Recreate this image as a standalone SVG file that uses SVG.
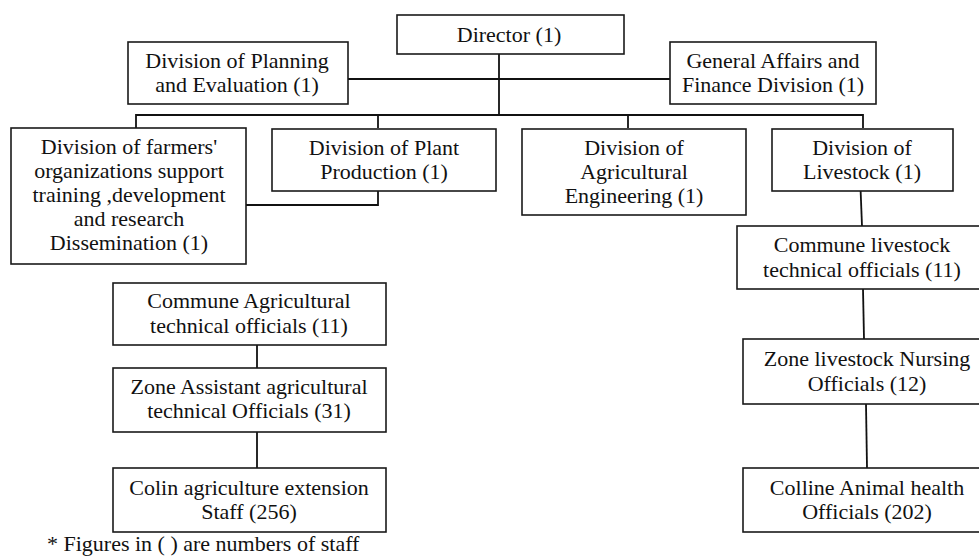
<svg xmlns="http://www.w3.org/2000/svg" width="979" height="556" viewBox="0 0 979 556">
  <style>
    .box { fill: #ffffff; stroke: #1a1a1a; stroke-width: 1.6; }
    .lbl { font-size: 22px; fill: #111111; text-anchor: middle; }
    .note { font-size: 22px; fill: #111111; }
    .link { fill: none; stroke: #111111; stroke-width: 1.8; }
  </style>
  <rect width="979" height="556" fill="#ffffff"/>
  <g id="connectors">
    <polyline class="link" points="499,54 499,115"/>
    <polyline class="link" points="348,79 670,79"/>
    <polyline class="link" points="136,128 136,115 863,115 863,128"/>
    <polyline class="link" points="378,115 378,128"/>
    <polyline class="link" points="628,115 628,128"/>
    <polyline class="link" points="378,191 378,205 246,205"/>
    <polyline class="link" points="860,175 862,226"/>
    <polyline class="link" points="863,289 864,339"/>
    <polyline class="link" points="866,404 867,468"/>
    <polyline class="link" points="257,345 257,368"/>
    <polyline class="link" points="257,432 257,468"/>
  </g>
  <g id="director">
    <rect class="box" x="397" y="15" width="227" height="39"/>
    <text class="lbl" x="509" y="42" font-family="Liberation Serif">Director (1)</text>
  </g>
  <g id="planning">
    <rect class="box" x="128" y="42" width="220" height="62"/>
    <text class="lbl" x="237" y="68" font-family="Liberation Serif">Division of Planning</text>
    <text class="lbl" x="237" y="92" font-family="Liberation Serif">and Evaluation  (1)</text>
  </g>
  <g id="finance">
    <rect class="box" x="670" y="42" width="206" height="62"/>
    <text class="lbl" x="773" y="68" font-family="Liberation Serif">General Affairs and</text>
    <text class="lbl" x="773" y="92" font-family="Liberation Serif">Finance Division (1)</text>
  </g>
  <g id="farmers">
    <rect class="box" x="11" y="128" width="235" height="136"/>
    <text class="lbl" x="129" y="154" font-family="Liberation Serif">Division of farmers&#39;</text>
    <text class="lbl" x="129" y="178" font-family="Liberation Serif">organizations  support</text>
    <text class="lbl" x="129" y="202" font-family="Liberation Serif">training ,development</text>
    <text class="lbl" x="129" y="226" font-family="Liberation Serif">and research</text>
    <text class="lbl" x="129" y="250" font-family="Liberation Serif">Dissemination (1)</text>
  </g>
  <g id="plant">
    <rect class="box" x="272" y="129" width="224" height="62"/>
    <text class="lbl" x="384" y="155" font-family="Liberation Serif">Division of Plant</text>
    <text class="lbl" x="384" y="179" font-family="Liberation Serif">Production (1)</text>
  </g>
  <g id="engineering">
    <rect class="box" x="522" y="129" width="224" height="86"/>
    <text class="lbl" x="634" y="155" font-family="Liberation Serif">Division of</text>
    <text class="lbl" x="634" y="179" font-family="Liberation Serif">Agricultural</text>
    <text class="lbl" x="634" y="203" font-family="Liberation Serif">Engineering (1)</text>
  </g>
  <g id="livestock">
    <rect class="box" x="772" y="129" width="181" height="62"/>
    <text class="lbl" x="862" y="155" font-family="Liberation Serif">Division of</text>
    <text class="lbl" x="862" y="179" font-family="Liberation Serif">Livestock (1)</text>
  </g>
  <g id="commune-agri">
    <rect class="box" x="113" y="283" width="273" height="62"/>
    <text class="lbl" x="249" y="308" font-family="Liberation Serif">Commune Agricultural</text>
    <text class="lbl" x="249" y="333" font-family="Liberation Serif">technical  officials  (11)</text>
  </g>
  <g id="zone-agri">
    <rect class="box" x="113" y="368" width="273" height="64"/>
    <text class="lbl" x="249" y="394" font-family="Liberation Serif">Zone Assistant agricultural</text>
    <text class="lbl" x="249" y="418" font-family="Liberation Serif">technical  Officials  (31)</text>
  </g>
  <g id="colin-agri">
    <rect class="box" x="113" y="468" width="273" height="64"/>
    <text class="lbl" x="249" y="495" font-family="Liberation Serif">Colin agriculture  extension</text>
    <text class="lbl" x="249" y="519" font-family="Liberation Serif">Staff (256)</text>
  </g>
  <g id="commune-livestock">
    <rect class="box" x="737" y="226" width="250" height="63"/>
    <text class="lbl" x="862" y="252" font-family="Liberation Serif">Commune livestock</text>
    <text class="lbl" x="862" y="277" font-family="Liberation Serif">technical  officials  (11)</text>
  </g>
  <g id="zone-livestock">
    <rect class="box" x="743" y="339" width="244" height="65"/>
    <text class="lbl" x="867" y="366" font-family="Liberation Serif">Zone livestock  Nursing</text>
    <text class="lbl" x="867" y="391" font-family="Liberation Serif">Officials (12)</text>
  </g>
  <g id="colline-livestock">
    <rect class="box" x="743" y="468" width="244" height="64"/>
    <text class="lbl" x="867" y="495" font-family="Liberation Serif">Colline Animal  health</text>
    <text class="lbl" x="867" y="519" font-family="Liberation Serif">Officials (202)</text>
  </g>
  <text class="note" x="47" y="551" font-family="Liberation Serif">* Figures in ( ) are numbers of staff</text>
</svg>
